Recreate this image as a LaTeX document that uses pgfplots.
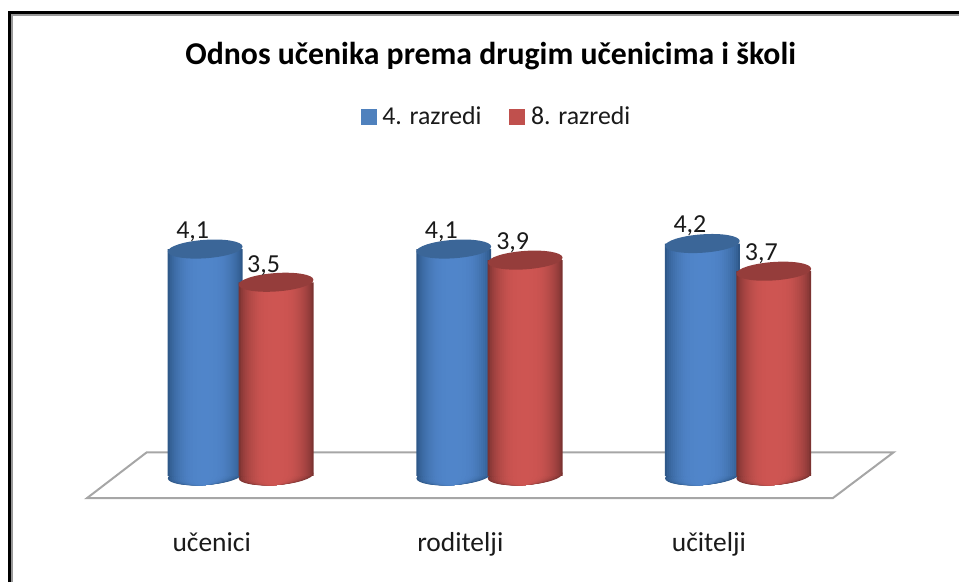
\documentclass[border=0pt]{standalone}
\usepackage{pgfplots}
\pgfplotsset{compat=1.18}
\usepackage{fontspec}
\setmainfont{Carlito}
\definecolor{bmid}{HTML}{5085CA}
\definecolor{bedge}{HTML}{2E5889}
\definecolor{bcap}{HTML}{3B6698}
\definecolor{rmid}{HTML}{CE5552}
\definecolor{redge}{HTML}{7C3331}
\definecolor{rcap}{HTML}{953D3B}
\definecolor{lgb}{HTML}{4F81BD}
\definecolor{lgr}{HTML}{C0504D}
\definecolor{txt}{HTML}{1A1A1A}
\pgfdeclareplotmark{ell}{\pgfpathellipse{\pgfpointorigin}{\pgfqpoint{37.4pt}{2.6pt}}{\pgfqpoint{-0.6pt}{9.2pt}}\pgfusepathqfill}
% one nested layer of a cylinder: width, percentage of the mid colour
\newcommand\cylb[2]{%
  \addplot[forget plot,only marks,mark=ell,mark options={draw=none,fill=bmid!#2!bedge,xscale=#1/75}]
    coordinates {(-0.1426,0) (0.8574,0) (1.8574,0)};
  \addplot[forget plot,ybar,bar width=#1pt,bar shift=0pt,draw=none,fill=bmid!#2!bedge]
    coordinates {(-0.1426,4.1) (0.8574,4.1) (1.8574,4.2)};}
\newcommand\cylr[2]{%
  \addplot[forget plot,only marks,mark=ell,mark options={draw=none,fill=rmid!#2!redge,xscale=#1/75}]
    coordinates {(0.1426,0) (1.1446,0) (2.1446,0)};
  \addplot[forget plot,ybar,bar width=#1pt,bar shift=0pt,draw=none,fill=rmid!#2!redge]
    coordinates {(0.1426,3.5) (1.1446,3.9) (2.1446,3.7)};}
\newcommand\layers[1]{%
  #1{75}{0}#1{71}{20}#1{67}{33}#1{63}{44}#1{59}{54}#1{55}{62}#1{51}{70}#1{47}{76}#1{43}{82}%
  #1{39}{87}#1{35}{91}#1{31}{94}#1{25}{97}#1{17}{99}#1{9}{100}}
\begin{document}
\begin{tikzpicture}
% frame
\draw[black!40,line width=2pt] (12pt,0pt) -- (12pt,568pt) -- (960pt,568pt);
\draw[black,line width=3pt] (9.5pt,0pt) -- (9.5pt,570.5pt) -- (960pt,570.5pt);
% floor
\draw[black!35,line width=2pt,line join=miter] (87pt,84pt) -- (147pt,130pt) -- (895pt,130pt) -- (834pt,84pt) -- cycle;
\begin{axis}[
  scale only axis, width=960pt, height=583pt,
  clip mode=individual,
  xmin=-0.96787, xmax=2.88755, ymin=-1.9206, ymax=8.603,
  axis line style={draw=none}, tick style={draw=none},
  ytick=\empty, xtick={0,1,2},
  xticklabels={učenici,roditelji,učitelji},
  xticklabel style={font=\fontsize{27.5}{30}\selectfont,text=txt,anchor=base,xshift=-29pt,yshift=31pt},
  title={Odnos učenika prema drugim učenicima i školi},
  title style={font=\fontsize{31.8}{35}\selectfont\bfseries,text=black,at={(491.5/960,1-62/583)},anchor=center},
  legend style={at={(361/960,1-105/583)},anchor=north west,draw=none,fill=none,inner sep=0pt,
    font=\fontsize{25.8}{28}\selectfont,text=txt,
    /tikz/every even column/.style={column sep=26pt}},
  legend columns=2,
  /pgf/number format/.cd, use comma, fixed, fixed zerofill, precision=1, assume math mode=true,
]
\addlegendimage{legend image code/.code={\fill[lgb] (0pt,-7pt) rectangle (15pt,8pt);}}
\addlegendentry{\,4. razredi}
\addlegendimage{legend image code/.code={\fill[lgr] (0pt,-7pt) rectangle (15pt,8pt);}}
\addlegendentry{\,8. razredi}

\layers{\cylb}
\addplot[forget plot,only marks,mark=ell,mark options={draw=none,fill=bcap},
  nodes near coords,
  nodes near coords style={font=\fontsize{26}{28}\selectfont,text=txt,anchor=center,xshift=-12.5pt,yshift=17.5pt}]
  coordinates {(-0.1426,4.1) (0.8574,4.1) (1.8574,4.2)};
\layers{\cylr}
\addplot[forget plot,only marks,mark=ell,mark options={draw=none,fill=rcap},
  nodes near coords,
  nodes near coords style={font=\fontsize{26}{28}\selectfont,text=txt,anchor=center,xshift=-12.5pt,yshift=17pt}]
  coordinates {(0.1426,3.5) (1.1446,3.9) (2.1446,3.7)};
\end{axis}
\end{tikzpicture}
\end{document}
